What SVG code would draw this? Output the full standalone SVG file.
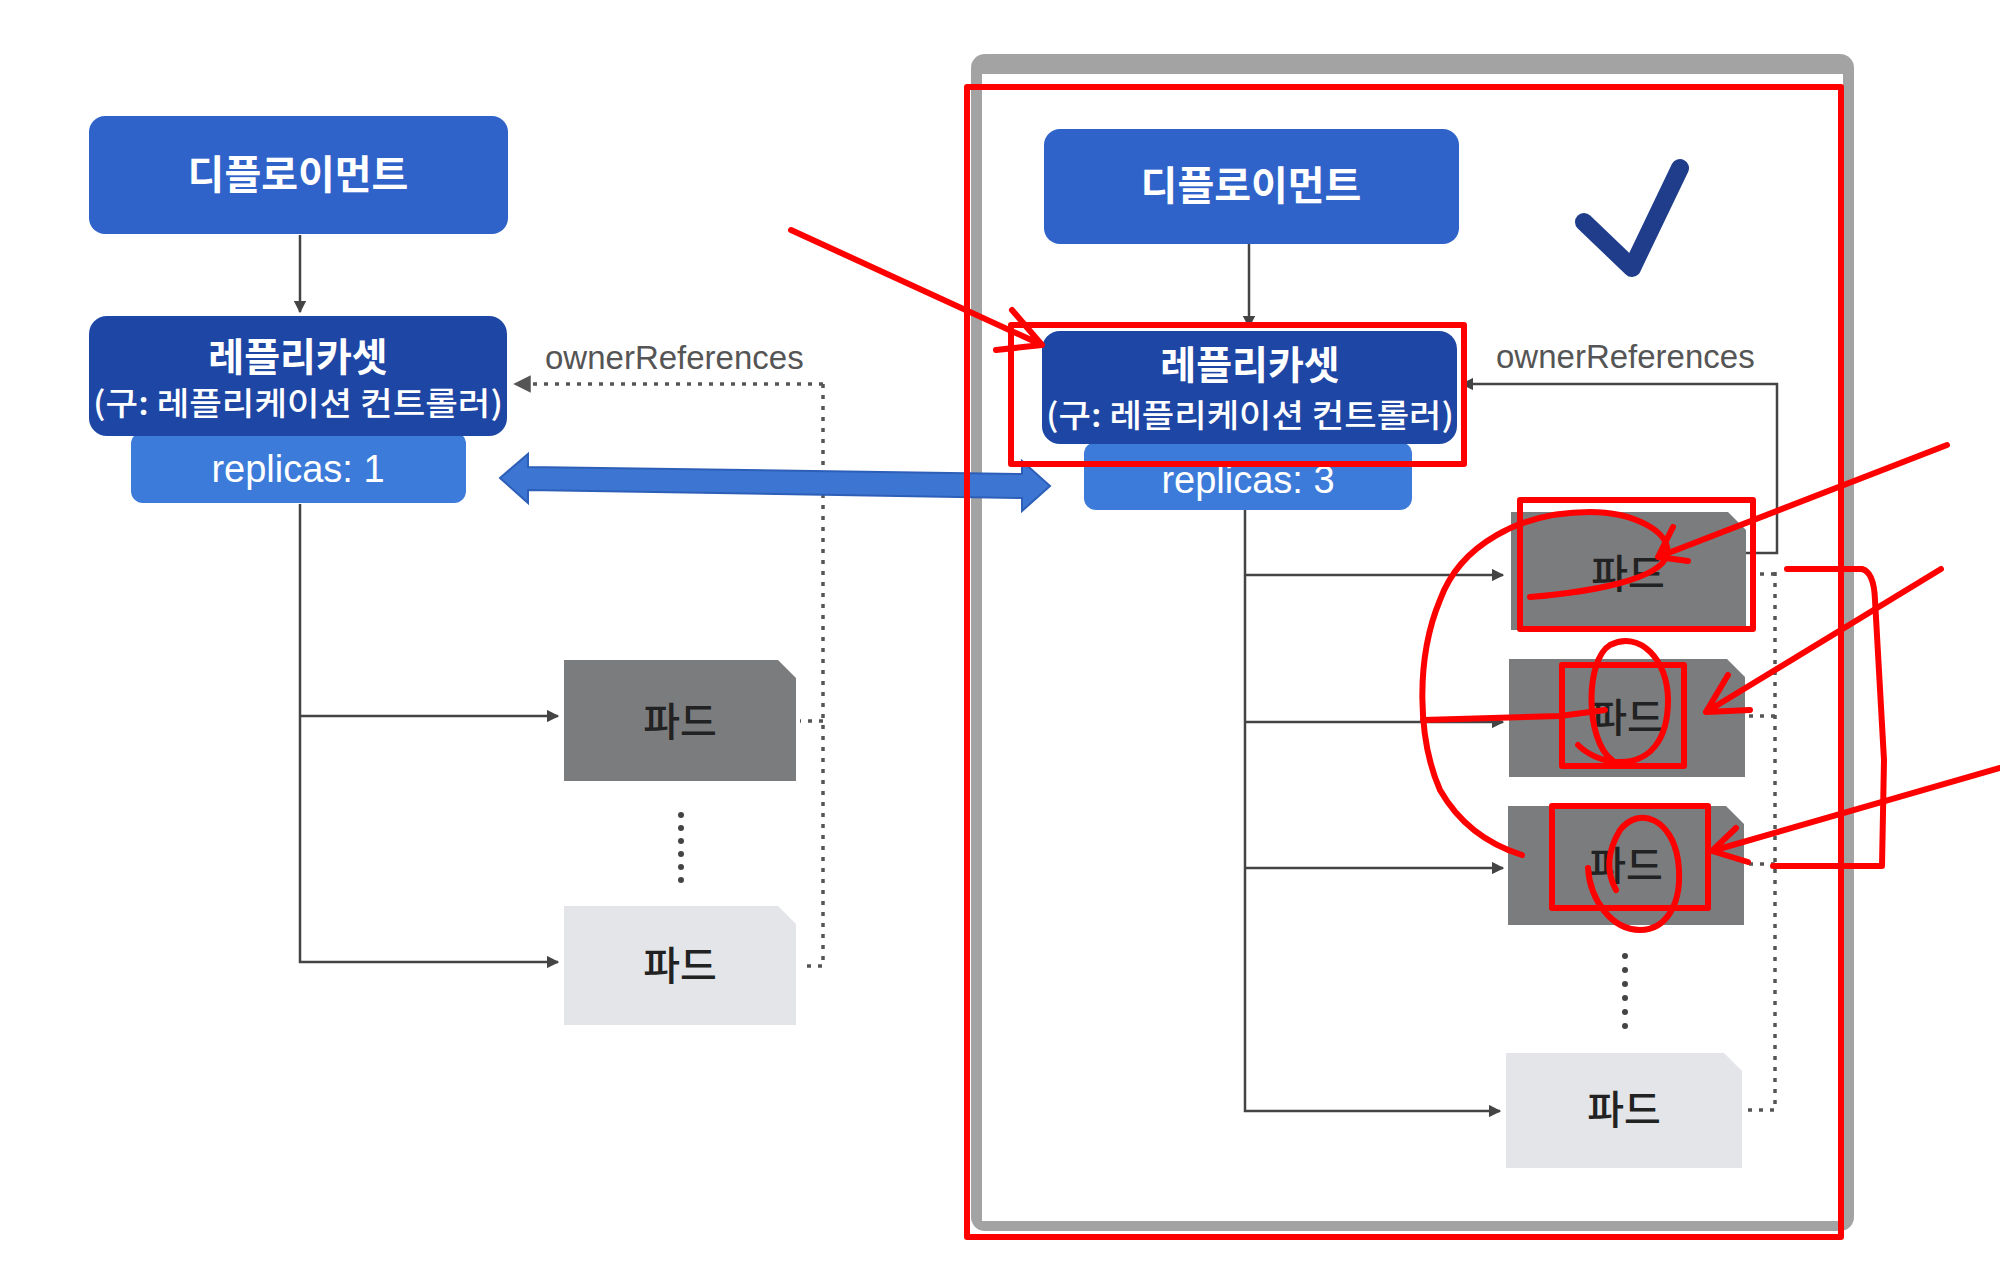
<svg xmlns="http://www.w3.org/2000/svg" width="2000" height="1276" viewBox="0 0 2000 1276">
<defs>
<marker id="ah" viewBox="0 0 10 10" refX="9" refY="5" markerWidth="5" markerHeight="5" orient="auto"><path d="M0,0 L10,5 L0,10 z" fill="#444"/></marker>
<marker id="ahd" viewBox="0 0 10 10" refX="9" refY="5" markerWidth="5" markerHeight="5" orient="auto"><path d="M0,0 L10,5 L0,10 z" fill="#555"/></marker>
</defs>
<style>
.dep{fill:#2f63c9}
.rs{fill:#1e46a5}
.rep{fill:#3c7bd9}
.kw{fill:#fff;font-family:"Noto Sans CJK KR","Noto Sans",sans-serif;font-weight:700;text-anchor:middle}
.ks{fill:#fff;font-family:"Noto Sans CJK KR","Noto Sans",sans-serif;font-weight:500;text-anchor:middle}
.lw{fill:#fff;font-family:"Liberation Sans",Arial,sans-serif;text-anchor:middle}
.own{fill:#555;font-family:"Liberation Sans",Arial,sans-serif;font-size:33px}
.podd{fill:#7b7c7e}
.podl{fill:#e3e5e8}
.pt{fill:#222;font-family:"Noto Sans CJK KR",sans-serif;font-weight:500;font-size:40px;text-anchor:middle}
.ln{fill:none;stroke:#444;stroke-width:2.5}
.dot{fill:none;stroke:#555;stroke-width:3.5;stroke-dasharray:4 7}
.red{fill:none;stroke:#f00;stroke-width:6;stroke-linecap:round;stroke-linejoin:round}
</style>
<rect width="2000" height="1276" fill="#fff"/>

<g id="frame">
<rect x="971" y="54" width="883" height="1177" rx="14" fill="#a3a3a3"/>
<rect x="982" y="74" width="861" height="1147" fill="#fff"/>
</g>

<g id="connectors">
<path class="ln" d="M300,235 V312" marker-end="url(#ah)"/>
<path class="ln" d="M300,504 V962 H558" marker-end="url(#ah)"/>
<path class="ln" d="M300,716 H558" marker-end="url(#ah)"/>
<path class="dot" d="M823,384 H515" marker-end="url(#ahd)"/>
<path class="dot" d="M823,384 V966 H800"/>
<path class="dot" d="M823,721 H800"/>
<path class="ln" d="M1249,244 V327" marker-end="url(#ah)"/>
<path class="ln" d="M1245,510 V1111 H1500" marker-end="url(#ah)"/>
<path class="ln" d="M1245,575 H1503" marker-end="url(#ah)"/>
<path class="ln" d="M1245,722 H1503" marker-end="url(#ah)"/>
<path class="ln" d="M1245,868 H1503" marker-end="url(#ah)"/>
<path class="ln" d="M1746,553 H1777 V384 H1462" stroke="#666" marker-end="url(#ah)"/>
<path class="dot" d="M1775,572 V1110 H1746" stroke="#888" stroke-width="2.5"/>
<path class="dot" d="M1775,574 H1750" stroke="#888" stroke-width="2.5"/>
<path class="dot" d="M1775,716 H1748" stroke="#888" stroke-width="2.5"/>
<path class="dot" d="M1775,864 H1747" stroke="#888" stroke-width="2.5"/>
<g fill="#444">
<circle cx="681" cy="815" r="3"/><circle cx="681" cy="828" r="3"/><circle cx="681" cy="841" r="3"/><circle cx="681" cy="854" r="3"/><circle cx="681" cy="867" r="3"/><circle cx="681" cy="880" r="3"/>
<circle cx="1625" cy="956" r="3"/><circle cx="1625" cy="970" r="3"/><circle cx="1625" cy="984" r="3"/><circle cx="1625" cy="998" r="3"/><circle cx="1625" cy="1012" r="3"/><circle cx="1625" cy="1026" r="3"/>
</g>
<polygon id="sync" points="500,478 528,454 528,467 1022,474 1022,461 1050,486 1022,511 1022,498 528,490 528,503" fill="#3c76d2" stroke="#2d5fb8" stroke-width="2"/>
</g>

<g id="left-deployment">
<rect class="dep" x="89" y="116" width="419" height="118" rx="16"/>
<text class="kw" x="298" y="189" font-size="40">디플로이먼트</text>
</g>
<g id="left-replicaset">
<rect class="rep" x="131" y="432" width="335" height="71" rx="12"/>
<rect class="rs" x="89" y="316" width="418" height="120" rx="18"/>
<text class="kw" x="298" y="371" font-size="39">레플리카셋</text>
<text class="ks" x="298" y="415" font-size="32" textLength="410" lengthAdjust="spacingAndGlyphs">(구: 레플리케이션 컨트롤러)</text>
<text class="lw" x="298" y="482" font-size="38">replicas: 1</text>
</g>
<g id="left-owner-label"><text class="own" x="545" y="369">ownerReferences</text></g>
<g id="left-pod-1">
<path class="podd" d="M564,660 H778 L796,678 V781 H564 Z"/>
<text class="pt" x="680" y="736">파드</text>
</g>
<g id="left-pod-2">
<path class="podl" d="M564,906 H778 L796,924 V1025 H564 Z"/>
<text class="pt" x="680" y="980">파드</text>
</g>

<g id="right-deployment">
<rect class="dep" x="1044" y="129" width="415" height="115" rx="16"/>
<text class="kw" x="1251" y="200" font-size="40">디플로이먼트</text>
</g>
<g id="checkmark"><polyline points="1584,222 1632,268 1680,168" fill="none" stroke="#1f3d8b" stroke-width="18" stroke-linecap="round" stroke-linejoin="round"/></g>
<g id="right-replicaset">
<rect class="rep" x="1084" y="442" width="328" height="68" rx="12"/>
<rect class="rs" x="1042" y="331" width="415" height="113" rx="18"/>
<text class="kw" x="1250" y="379" font-size="39">레플리카셋</text>
<text class="ks" x="1250" y="427" font-size="32" textLength="408" lengthAdjust="spacingAndGlyphs">(구: 레플리케이션 컨트롤러)</text>
<text class="lw" x="1248" y="493" font-size="38">replicas: 3</text>
</g>
<g id="right-owner-label"><text class="own" x="1496" y="368">ownerReferences</text></g>
<g id="right-pod-1">
<path class="podd" d="M1511,512 H1728 L1746,530 V630 H1511 Z"/>
<text class="pt" x="1628" y="588">파드</text>
</g>
<g id="right-pod-2">
<path class="podd" d="M1509,659 H1727 L1745,677 V777 H1509 Z"/>
<text class="pt" x="1627" y="732">파드</text>
</g>
<g id="right-pod-3">
<path class="podd" d="M1508,806 H1726 L1744,824 V925 H1508 Z"/>
<text class="pt" x="1626" y="880">파드</text>
</g>
<g id="right-pod-4">
<path class="podl" d="M1506,1053 H1724 L1742,1071 V1168 H1506 Z"/>
<text class="pt" x="1624" y="1124">파드</text>
</g>

<g id="annotations">
<rect class="red" x="967" y="87" width="874" height="1150" stroke-width="7" stroke-linecap="butt" stroke-linejoin="miter"/>
<rect class="red" x="1011" y="325" width="453" height="139" stroke-linejoin="miter"/>
<path class="red" d="M791,230 L1040,344 M1012,310 L1042,345 L996,350"/>
<rect class="red" x="1520" y="500" width="233" height="129" stroke-linejoin="miter"/>
<rect class="red" x="1562" y="665" width="122" height="101" stroke-linejoin="miter"/>
<rect class="red" x="1552" y="806" width="156" height="102" stroke-linejoin="miter"/>
<path class="red" d="M1947,445 L1658,557 M1673,527 L1658,557 L1688,561"/>
<path class="red" d="M1941,569 L1706,712 M1728,675 L1706,712 L1750,710"/>
<path class="red" d="M2000,768 L1712,851 M1736,828 L1712,851 L1748,862"/>
<path class="red" d="M1530,597 C1590,592 1660,580 1667,555 C1672,530 1630,512 1590,512 C1520,512 1460,545 1440,600 C1415,660 1418,740 1440,790 C1460,825 1490,845 1522,855"/>
<path class="red" d="M1423,720 L1560,716 L1605,710"/>
<path class="red" d="M1612,760 C1585,740 1585,660 1610,645 C1640,630 1668,660 1668,700 C1668,740 1650,762 1620,762 C1600,762 1585,752 1578,745"/>
<path class="red" d="M1616,890 C1605,870 1608,850 1620,830 C1640,805 1672,820 1678,860 C1684,905 1665,930 1640,930 C1612,930 1590,900 1588,868"/>
<path class="red" d="M1787,569 H1862 Q1874,572 1875,600 L1884,760 L1882,866 H1773"/>
</g>
</svg>
